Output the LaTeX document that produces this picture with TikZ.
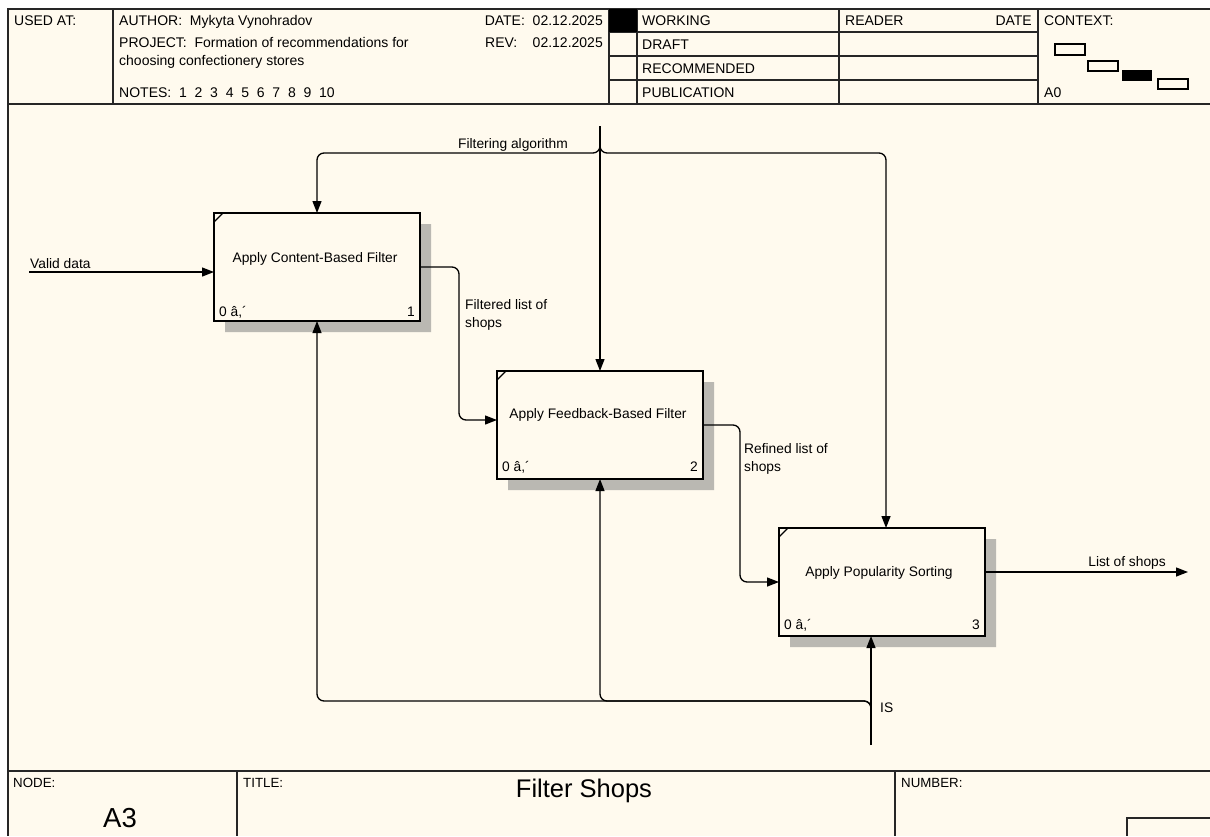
\documentclass[tikz,border=0pt]{standalone}
\usepackage{fontspec}
\setmainfont{Liberation Sans}
\usetikzlibrary{arrows.meta}
\definecolor{paper}{RGB}{255,250,238}
\definecolor{shadowgray}{RGB}{186,184,178}
\begin{document}
\begin{tikzpicture}[x=1pt,y=-1pt,
  txt/.style={inner sep=0pt, font=\fontsize{13.8}{16}\selectfont, text=black},
  hdr/.style={inner sep=0pt, font=\fontsize{14}{16}\selectfont, text=black},
  foot/.style={inner sep=0pt, font=\fontsize{13.3}{15}\selectfont, text=black},
  frame/.style={line width=1.4pt, draw=black!85},
  fbox/.style={draw=black, line width=2pt, fill=paper, minimum width=206pt,
    minimum height=108pt, anchor=north west, inner sep=0pt, outer sep=0pt},
  link/.style={line width=1.3pt, draw=black, rounded corners=7pt},
  arr/.style={link, -{Triangle[length=12pt,width=9pt]}},
]
\useasboundingbox (0,0) rectangle (1210,836);
\fill[white] (0,0) rectangle (1210,836);
\fill[paper] (8,9) rectangle (1210,836);

% ---------- sheet frame ----------
\draw[frame] (1210,9) -- (8,9) -- (8,836);
\draw[frame] (8,104) -- (1210,104);
\draw[frame] (8,771) -- (1210,771);

% ---------- header ----------
\draw[frame] (113,9) -- (113,104);
\draw[frame] (609,9) -- (609,104);
\draw[frame] (637,9) -- (637,104);
\draw[frame] (839,9) -- (839,104);
\draw[frame] (1038,9) -- (1038,104);
\foreach \yy in {32,56,80} \draw[frame] (609,\yy) -- (1038,\yy);
\fill[black] (609,9) rectangle (637,32);

\node[hdr, anchor=base west] (usedat) at (14,25) {USED AT:};
\node[hdr, anchor=base west] (author) at (119,25) {AUTHOR:\ \ Mykyta Vynohradov};
\node[hdr, anchor=base west] (project) at (119,47) {PROJECT:\ \ Formation of recommendations for};
\node[hdr, anchor=base west] (project2) at (119,65) {choosing confectionery stores};
\node[hdr, anchor=base west] (notes) at (119,97) {NOTES:\ \ 1\ \ 2\ \ 3\ \ 4\ \ 5\ \ 6\ \ 7\ \ 8\ \ 9\ \ 10};
\node[hdr, anchor=base east] (date) at (603,25) {DATE:\ \ 02.12.2025};
\node[hdr, anchor=base west] (rev) at (485,47) {REV:};
\node[hdr, anchor=base east] (revd) at (603,47) {02.12.2025};
\node[hdr, anchor=base west] (working) at (642,25) {WORKING};
\node[hdr, anchor=base west] (draft) at (642,49) {DRAFT};
\node[hdr, anchor=base west] (recom) at (642,73) {RECOMMENDED};
\node[hdr, anchor=base west] (publ) at (642,97) {PUBLICATION};
\node[hdr, anchor=base west] (reader) at (845,25) {READER};
\node[hdr, anchor=base east] (rdate) at (1032,25) {DATE};
\node[hdr, anchor=base west] (context) at (1044,25) {CONTEXT:};
\node[hdr, anchor=base west] (a0) at (1044,97) {A0};

% context map
\draw[line width=1.2pt] (1055,44) rectangle (1085,55);
\draw[line width=1.2pt] (1088,61) rectangle (1118,71);
\fill[black] (1122,70) rectangle (1152,81);
\draw[line width=1.2pt] (1158,79) rectangle (1188,89);

% ---------- footer ----------
\draw[frame] (237,771) -- (237,836);
\draw[frame] (895,771) -- (895,836);
\draw[frame] (1210,818) -- (1127,818) -- (1127,836);
\node[foot, anchor=base west] (nodelbl) at (13,787) {NODE:};
\node[foot, anchor=base west] (titlelbl) at (243,787) {TITLE:};
\node[foot, anchor=base west] (numlbl) at (901,787) {NUMBER:};
\node[inner sep=0pt, anchor=base, font=\fontsize{27.5}{30}\selectfont] (nodeid) at (120,827) {A3};
\node[inner sep=0pt, anchor=base, font=\fontsize{25.5}{28}\selectfont] (title) at (584,797) {Filter Shops};

% ---------- box shadows ----------
\fill[shadowgray] (420,224) -- (431,224) -- (431,332) -- (225,332) -- (225,321) -- (420,321) -- cycle;
\fill[shadowgray] (703,382) -- (714,382) -- (714,490) -- (508,490) -- (508,479) -- (703,479) -- cycle;
\fill[shadowgray] (985,539) -- (996,539) -- (996,647) -- (790,647) -- (790,636) -- (985,636) -- cycle;

% ---------- activity boxes ----------
\node[fbox] (b1) at (214,213) {};
\node[fbox] (b2) at (497,371) {};
\node[fbox] (b3) at (779,528) {};
\foreach \b in {b1,b2,b3}
  \draw[line width=1.2pt] ([yshift=-9pt]\b.north west) -- ([xshift=9pt]\b.north west);

\node[txt, anchor=base] (t1) at (315,262) {Apply Content-Based Filter};
\node[txt, anchor=base west] (c1) at (219,316) {0 â,´};
\node[txt, anchor=base east] (n1) at (415,316) {1};
\node[txt, anchor=base] (t2) at (598,418) {Apply Feedback-Based Filter};
\node[txt, anchor=base west] (c2) at (502,471) {0 â,´};
\node[txt, anchor=base east] (n2) at (698,471) {2};
\node[txt, anchor=base] (t3) at (879,576) {Apply Popularity Sorting};
\node[txt, anchor=base west] (c3) at (784,629) {0 â,´};
\node[txt, anchor=base east] (n3) at (980,629) {3};

% ---------- free arrow ends ----------
\coordinate (vdin) at (29,272);
\coordinate (out) at (1188,572);
\coordinate (ctop) at (600,126);
\coordinate (csplit) at (600,143);
\coordinate (mbot) at (871,745);
\coordinate (msplit) at (871,713);

% inputs and outputs
\draw[arr] (vdin) -- (vdin -| b1.west);
\draw[arr] (b1.east) -- ++(39,0) |- ([yshift=5pt]b2.west);
\draw[arr] (b2.east) -- ++(37,0) |- (b3.west);
\draw[arr] ([yshift=10pt]b3.east) -- ([yshift=10pt]b3.east -| out);

% control
\draw[arr, rounded corners=0pt] (ctop) -- (ctop |- b2.north);
\draw[arr] (csplit) -- (600,153) -| (b1.north);
\draw[arr] (csplit) -- (600,153) -| ([xshift=4pt]b3.north);

% mechanism
\draw[arr, rounded corners=0pt] (mbot) -- (mbot |- b3.south);
\draw[arr] (msplit) -- (871,701) -| (b1.south);
\draw[arr] (msplit) -- (871,701) -| (b2.south);

% arrow labels
\node[txt, anchor=base west] (lvd) at (30,268) {Valid data};
\node[txt, anchor=base west] (lf1) at (465,309) {Filtered list of};
\node[txt, anchor=base west] (lf2) at (465,327) {shops};
\node[txt, anchor=base west] (lr1) at (744,453) {Refined list of};
\node[txt, anchor=base west] (lr2) at (744,471) {shops};
\node[txt, anchor=base east] (lout) at (1166,566) {List of shops};
\node[txt, anchor=base] (lctl) at (513,148) {Filtering algorithm};
\node[txt, anchor=base west] (lis) at (880,712) {IS};
\end{tikzpicture}
\end{document}
